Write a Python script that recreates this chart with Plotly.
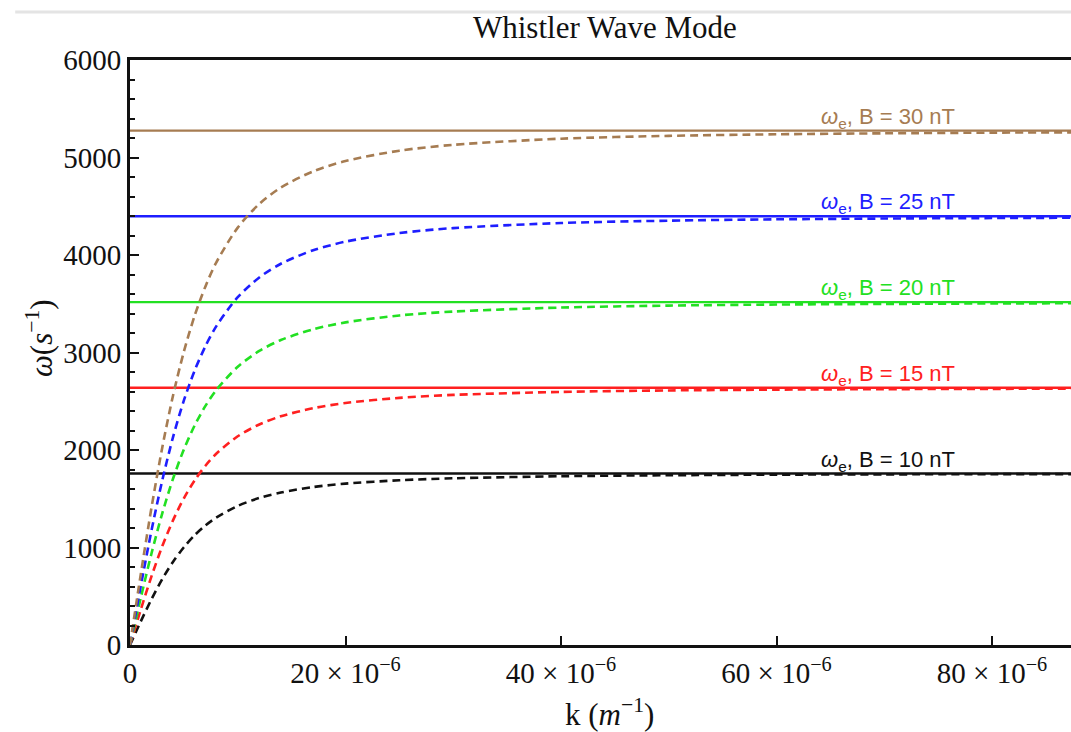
import plotly.graph_objects as go

# Wavenumber samples, in units of 1e-6 m^-1
k_micro = [0, 1, 2, 3, 4, 5, 6, 7, 8, 10, 12, 14, 17, 20, 25, 30, 40, 50, 60, 70, 80, 87.4]

# Field strengths (nT) and electron cyclotron frequencies (s^-1)
fields_nT = [10, 15, 20, 25, 30]
omega_e = [1759, 2638, 3517, 4397, 5276]

# Whistler branch frequency (s^-1) at each k sample
w_10nT = [0, 242, 471, 677, 854, 1003, 1126, 1226, 1307, 1427, 1508, 1564, 1620, 1655, 1690, 1710, 1731, 1741, 1747, 1750, 1752, 1753]
w_15nT = [0, 363, 706, 1015, 1281, 1505, 1689, 1839, 1961, 2141, 2262, 2346, 2429, 2482, 2535, 2565, 2596, 2611, 2619, 2624, 2627, 2629]
w_20nT = [0, 484, 941, 1353, 1708, 2006, 2252, 2452, 2614, 2854, 3016, 3128, 3238, 3309, 3380, 3420, 3461, 3481, 3492, 3498, 3503, 3505]
w_25nT = [0, 605, 1177, 1691, 2135, 2508, 2815, 3065, 3268, 3568, 3770, 3910, 4049, 4137, 4225, 4276, 4328, 4352, 4366, 4374, 4379, 4382]
w_30nT = [0, 726, 1412, 2029, 2562, 3009, 3378, 3678, 3922, 4281, 4524, 4692, 4858, 4964, 5070, 5130, 5193, 5222, 5238, 5248, 5255, 5258]
branches = [w_10nT, w_15nT, w_20nT, w_25nT, w_30nT]

colors = ["#111111", "#FF2020", "#22E022", "#1E1EFF", "#A67C52"]

x_ticks = [0, 20, 40, 60, 80]
x_ticktext = ["0"] + [f"{v} × 10<sup>−6</sup>" for v in x_ticks[1:]]
y_ticks = [0, 1000, 2000, 3000, 4000, 5000, 6000]

k = [v * 1e-6 for v in k_micro]
x_max = k[-1]

fig = go.Figure()

for B, we, w, c in zip(fields_nT, omega_e, branches, colors):
    fig.add_trace(go.Scatter(
        x=[0, x_max], y=[we, we], mode="lines",
        line=dict(color=c, width=2.4), showlegend=False, hoverinfo="skip"))
    fig.add_trace(go.Scatter(
        x=k, y=w, mode="lines",
        line=dict(color=c, width=2.6, dash="8px,5px", shape="spline", smoothing=0.8),
        showlegend=False, name=f"B = {B} nT"))
    fig.add_annotation(
        x=70.35e-6, y=we, xref="x", yref="y",
        text=f"<i>ω</i><sub>e</sub>, B = {B} nT",
        showarrow=False, xanchor="center", yanchor="bottom", yshift=-3,
        font=dict(family="Liberation Sans, Arial, sans-serif", size=22, color=c))

serif = "Liberation Serif, Times New Roman, serif"

fig.add_annotation(
    x=0.5048, y=1.0564, xref="paper", yref="paper",
    text="Whistler Wave Mode", showarrow=False,
    xanchor="center", yanchor="middle",
    font=dict(family=serif, size=31, color="#111111"))
fig.add_annotation(
    x=-0.0956, y=0.5248, xref="paper", yref="paper",
    text="<i>ω</i>(<i>s</i><sup>−1</sup>)", showarrow=False, textangle=-90,
    xanchor="center", yanchor="middle",
    font=dict(family=serif, size=31, color="#111111"))
fig.add_annotation(
    x=0.510, y=-0.1162, xref="paper", yref="paper",
    text="k (<i>m</i><sup>−1</sup>)", showarrow=False,
    xanchor="center", yanchor="middle",
    font=dict(family=serif, size=31, color="#111111"))

# thin grey page rule above the title
fig.add_shape(type="line", xref="paper", yref="paper",
              x0=-0.122, x1=1.0, y0=1.082, y1=1.082,
              line=dict(color="#E4E4E4", width=3))

fig.update_xaxes(
    range=[0, 87.33e-6], tickvals=[v * 1e-6 for v in x_ticks], ticktext=x_ticktext,
    showline=True, linecolor="#111111", linewidth=3, mirror=True,
    ticks="inside", ticklen=9, tickwidth=2, tickcolor="#111111",
    showgrid=False, zeroline=False,
    tickfont=dict(family=serif, size=29, color="#111111"))
fig.update_yaxes(
    range=[0, 6000], tickvals=y_ticks,
    showline=True, linecolor="#111111", linewidth=3, mirror=False,
    ticks="inside", ticklen=9, tickwidth=2, tickcolor="#111111",
    minor=dict(dtick=200, ticks="inside", ticklen=5, tickwidth=2, tickcolor="#111111"),
    showgrid=False, zeroline=False,
    tickfont=dict(family=serif, size=29, color="#111111"))

fig.update_layout(
    width=1071, height=732,
    margin=dict(l=130, r=0, t=60, b=87),
    paper_bgcolor="white", plot_bgcolor="white",
    showlegend=False)

fig.write_html("out.html")
